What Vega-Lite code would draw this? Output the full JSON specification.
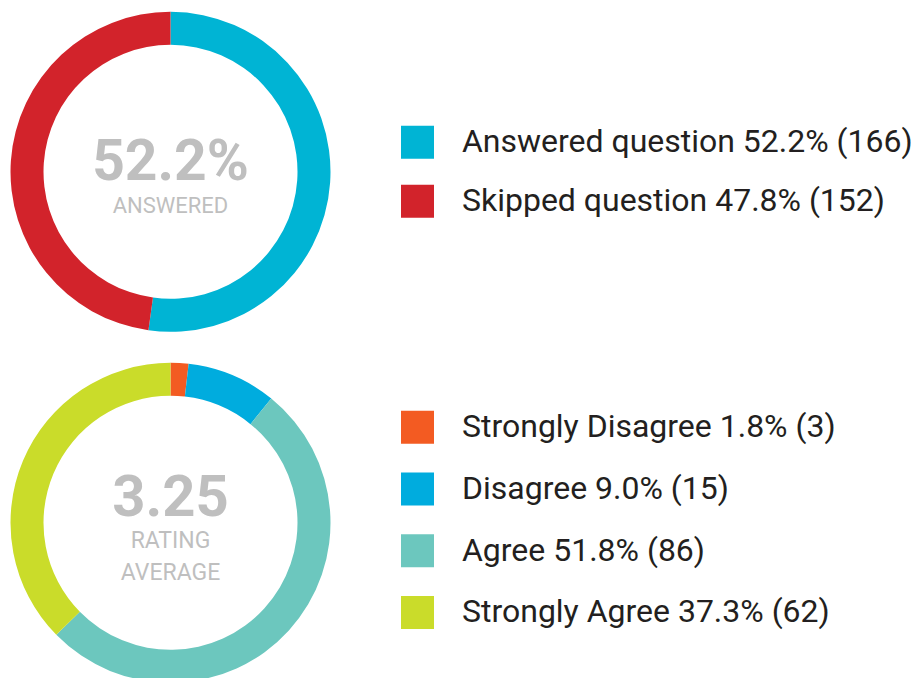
{
  "$schema": "https://vega.github.io/schema/vega-lite/v6.json",
  "padding": {"left": 10.5, "top": 11.8, "right": 0, "bottom": 0},
  "background": "white",
  "bounds": "flush",
  "spacing": 31,
  "config": {"view": {"stroke": null}},
  "resolve": {"scale": {"color": "independent", "theta": "independent"}, "legend": {"color": "independent"}},
  "vconcat": [
    {
      "width": 320,
      "height": 320,
      "layer": [
        {
          "data": {"values": [
            {"label": "Answered question 52.2% (166)", "count": 166, "i": 1},
            {"label": "Skipped question 47.8% (152)", "count": 152, "i": 2}
          ]},
          "mark": {"type": "arc", "outerRadius": 160, "innerRadius": 127, "strokeWidth": 0},
          "encoding": {
            "theta": {"field": "count", "type": "quantitative", "stack": true},
            "order": {"field": "i", "type": "quantitative"},
            "color": {
              "field": "label", "type": "nominal",
              "scale": {"domain": ["Answered question 52.2% (166)", "Skipped question 47.8% (152)"], "range": ["#00b4d4", "#d2232b"]},
              "legend": {"orient": "none", "legendX": 390.5, "legendY": 114, "title": null, "direction": "vertical",
                "symbolType": "square", "symbolSize": 1089, "symbolStrokeWidth": 0, "padding": 0,
                "labelFont": "Roboto", "labelFontSize": 32, "labelColor": "#231f20", "labelLimit": 700, "labelOffset": 28, "rowPadding": 26}
            }
          }
        },
        {
          "data": {"values": [{"t": "52.2%"}]},
          "mark": {"type": "text", "font": "Roboto", "fontSize": 57, "fontWeight": "bold", "color": "#bfbfbf", "baseline": "alphabetic", "align": "center", "dy": 8},
          "encoding": {"text": {"field": "t", "type": "nominal"}}
        },
        {
          "data": {"values": [{"t": "ANSWERED"}]},
          "mark": {"type": "text", "font": "Roboto", "fontSize": 22, "color": "#bfbfbf", "baseline": "alphabetic", "align": "center", "dy": 41.5},
          "encoding": {"text": {"field": "t", "type": "nominal"}}
        }
      ]
    },
    {
      "width": 320,
      "height": 320,
      "layer": [
        {
          "data": {"values": [
            {"label": "Strongly Disagree 1.8% (3)", "count": 3, "i": 1},
            {"label": "Disagree 9.0% (15)", "count": 15, "i": 2},
            {"label": "Agree 51.8% (86)", "count": 86, "i": 3},
            {"label": "Strongly Agree 37.3% (62)", "count": 62, "i": 4}
          ]},
          "mark": {"type": "arc", "outerRadius": 160, "innerRadius": 127, "strokeWidth": 0},
          "encoding": {
            "theta": {"field": "count", "type": "quantitative", "stack": true},
            "order": {"field": "i", "type": "quantitative"},
            "color": {
              "field": "label", "type": "nominal",
              "scale": {"domain": ["Strongly Disagree 1.8% (3)", "Disagree 9.0% (15)", "Agree 51.8% (86)", "Strongly Agree 37.3% (62)"], "range": ["#f35b22", "#00acde", "#6cc7be", "#cadc2a"]},
              "legend": {"orient": "none", "legendX": 390.5, "legendY": 48, "title": null, "direction": "vertical",
                "symbolType": "square", "symbolSize": 1089, "symbolStrokeWidth": 0, "padding": 0,
                "labelFont": "Roboto", "labelFontSize": 32, "labelColor": "#231f20", "labelLimit": 700, "labelOffset": 28, "rowPadding": 28.7}
            }
          }
        },
        {
          "data": {"values": [{"t": "3.25"}]},
          "mark": {"type": "text", "font": "Roboto", "fontSize": 58, "fontWeight": "bold", "color": "#bfbfbf", "baseline": "alphabetic", "align": "center", "dy": -7},
          "encoding": {"text": {"field": "t", "type": "nominal"}}
        },
        {
          "data": {"values": [{"t": "RATING"}]},
          "mark": {"type": "text", "font": "Roboto", "fontSize": 23, "color": "#bfbfbf", "baseline": "alphabetic", "align": "center", "dy": 25.6},
          "encoding": {"text": {"field": "t", "type": "nominal"}}
        },
        {
          "data": {"values": [{"t": "AVERAGE"}]},
          "mark": {"type": "text", "font": "Roboto", "fontSize": 23, "color": "#bfbfbf", "baseline": "alphabetic", "align": "center", "dy": 57.3},
          "encoding": {"text": {"field": "t", "type": "nominal"}}
        }
      ]
    }
  ]
}
